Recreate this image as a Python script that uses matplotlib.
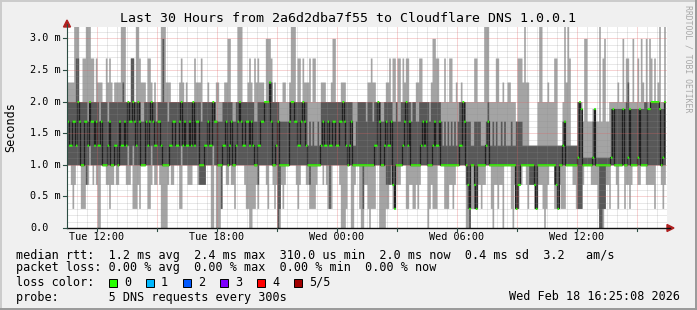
import numpy as np
import matplotlib
matplotlib.use("Agg")
import matplotlib.pyplot as plt
from matplotlib.lines import Line2D
from matplotlib.patches import Polygon, Rectangle
from matplotlib.transforms import blended_transform_factory

W, H = 697, 310
MONO = "DejaVu Sans Mono"

# rtt levels seen in the graph (ms); one char per ping in the strings below
LEVEL_MS = {"0": 0.0, "1": 0.31, "2": 0.69, "3": 1.0, "b": 1.12, "4": 1.31,
            "5": 1.69, "c": 1.89, "6": 2.0, "7": 2.31, "8": 2.69, "9": 3.0,
            "A": 3.4}

# 5 DNS requests every 300s, one char per step, first step starts Tue 10:30
MIN_RTT = ("3321233311" "1223323200" "3332212232" "2333332231" "1121333311"
           "2322320000" "3322333113" "3322233322" "222333003"
           "0001332232" "2133333211" "0011213333" "2133212002" "1233333321"
           "2333221111" "2333232111" "3333200013" "3002331002"
           "2101113300" "0011221122" "2333112211" "2123333012" "1113333111"
           "2212333333" "0001111221" "2233310221" "2203333102"
           "1122332122" "2112221012" "3331112111" "3333221111" "2333322221"
           "0001221333" "2133312212" "3332233322" "2221333212")
LOW_RTT = ("3333333333" "3234333333" "3333333333" "3333324334" "3333333333"
           "4333333333" "2333333343" "3333333332" "222333343"
           "3331333333" "3333333333" "3333323333" "3333333013" "3333333333"
           "3333332333" "3333333313" "3333333333" "3333333313"
           "3333333333" "3322232133" "3333333333" "3333333333" "3333333333"
           "3333333333" "2103311333" "3333333333" "3333333333"
           "1123333322" "2213333333" "3332213333" "3333333111" "3333333333"
           "0011333333" "3333333333" "3333333333" "3333333333")
MEDIAN_RTT = ("5445546533" "5546554544" "5333453344" "3544546556" "5465333545"
              "6544554333" "3445544564" "5445464553" "334454465"
              "5333445345" "3345654455" "4543344556" "6675334533" "3333566554"
              "4565433333" "3334544544" "5544556543" "4533333333"
              "3333344653" "3454452133" "3345645333" "3334545333" "4544533333"
              "3333334465" "3213321333" "3345333333" "3333333333"
              "1223333333" "3213333333" "3333213345" "3333333b6c" "333333bc33"
              "3333333bc3" "3333c33bc3" "333bc3333c" "c66666c3b6")
HIGH_RTT = ("6666688666" "6656666665" "6666566666" "6667666688" "6666556666"
            "6665666966" "5666666666" "6766666666" "566666666"
            "5555666666" "5566666666" "6665566666" "6677666655" "5555666666"
            "6666645454" "4546666666" "6666666666" "6644566666"
            "5666566665" "5666665565" "5666666566" "5566666656" "6666654545"
            "4545456666" "5554455554" "4456445454" "4545444544"
            "5555444444" "4444444444" "4444444455" "4444444666" "bbbbbbccbb"
            "bbbbbbbccc" "cccccc88cc" "ccccccc66c" "c66666ccc6")
MAX_RTT = ("7777AAA668" "8AAA886877" "7668787677" "77AAA66688" "6AA8777688"
           "767666AAA7" "7766666787" "6666668777" "866676666"
           "7766677996" "666AAA6667" "8768787776" "9998676666" "77667AAA68"
           "8687778688" "6667776667" "9966677766" "6666666666"
           "6778776666" "6677868868" "8687886666" "7788666667" "9988666866"
           "8866766766" "6666688666" "6AAA666688" "6676677666"
           "58887A7744" "4446AA6667" "666884446A" "7A8444466c" "5995555c55"
           "A589556666" "6766966766" "9668697696" "986867A66A")

START_HOUR = 10.5
STEP_HOURS = 5 / 60

TICK_HOURS = [12, 18, 24, 30, 36]
TICK_LABELS = ["Tue 12:00", "Tue 18:00", "Wed 00:00", "Wed 06:00", "Wed 12:00"]
Y_TICKS = [0.0, 0.5, 1.0, 1.5, 2.0, 2.5, 3.0]
Y_LABELS = ["0.0", "0.5 m", "1.0 m", "1.5 m", "2.0 m", "2.5 m", "3.0 m"]

LOSS_LABELS = ["0", "1", "2", "3", "4", "5/5"]
LOSS_COLORS = ["#26ff00", "#00b8ff", "#0059ff", "#7e00ff", "#ff0000", "#a10000"]

cols = [MIN_RTT, LOW_RTT, MEDIAN_RTT, HIGH_RTT, MAX_RTT]
n = min(len(c) for c in cols)
pings = np.array([[LEVEL_MS[c[i]] for c in cols] for i in range(n)])
pings.sort(axis=1)
t = START_HOUR + STEP_HOURS * np.arange(n + 1)


def ext(a):
    return np.append(a, a[-1])


def fx(x):
    return x / W


def fy(y):
    return 1 - y / H


fig = plt.figure(figsize=(W / 100, H / 100), dpi=100, facecolor="#f0f0f0")
ax = fig.add_axes([fx(67), fy(228), 600 / W, 201 / H])
ax.set_facecolor("white")
for s in ax.spines.values():
    s.set_visible(False)
ax.set_xticks([])
ax.set_yticks([])
ax.set_xlim(10.5, 40.5)
ax.set_ylim(0, 3.18)

# smoke
ax.fill_between(t, ext(pings[:, 0]), ext(pings[:, 4]), step="post",
                color="#a4a4a4", lw=0, antialiased=False, zorder=2)
ax.fill_between(t, ext(pings[:, 1]), ext(pings[:, 3]), step="post",
                color="#585858", lw=0, antialiased=False, zorder=3)

# median
med = pings[:, 2]
ax.step(t, ext(med), where="post", color="#202020", lw=0.9, zorder=4)
sw = 0.017
ax.fill_between(t, ext(med) - sw, ext(med) + sw, step="post",
                color=LOSS_COLORS[0], lw=0, antialiased=False, zorder=5)

# grid on top
minor = dict(color="#8c8c8c", alpha=0.4, lw=0.72, ls=(0, (1, 1)), zorder=6)
major = dict(color="#e06060", alpha=0.55, lw=0.72, ls=(0, (1, 1)), zorder=7)
for k in range(22, 81):
    h = k / 2
    ax.axvline(h, **(major if k % 6 == 0 else minor))
for k in range(1, 32):
    ax.axhline(k / 10, **(major if k % 5 == 0 else minor))

# axes lines and arrows
axis_col = "#2c4d43"
fig.add_artist(Line2D([fx(67), fx(670)], [fy(228), fy(228)], color="#101010",
                      lw=1.0, transform=fig.transFigure))
fig.add_artist(Line2D([fx(67), fx(67)], [fy(228), fy(24)], color=axis_col,
                      lw=0.8, transform=fig.transFigure))
fig.add_artist(Polygon([(fx(667), fy(224.5)), (fx(667), fy(231.5)), (fx(674), fy(228))],
                       closed=True, color="#b02020", transform=fig.transFigure))
fig.add_artist(Polygon([(fx(63.5), fy(27)), (fx(70.5), fy(27)), (fx(67), fy(20))],
                       closed=True, color="#b02020", transform=fig.transFigure))

# y ticks
ty = blended_transform_factory(fig.transFigure, ax.transData)
for v, lab in zip(Y_TICKS, Y_LABELS):
    fig.add_artist(Line2D([fx(63), fx(67)], [v, v], color=axis_col, lw=0.8,
                          transform=ty, clip_on=False))
    fig.text(fx(30), v, lab, transform=ty, ha="left", va="center",
             family=MONO, fontsize=7.3)

# x ticks
tx = blended_transform_factory(ax.transData, fig.transFigure)
for h in range(12, 40, 3):
    fig.add_artist(Line2D([h, h], [fy(228), fy(231)], color=axis_col, lw=0.8,
                          transform=tx, clip_on=False))
for h, lab in zip(TICK_HOURS, TICK_LABELS):
    fig.text(h, fy(237.5), lab, transform=tx, ha="center", va="center",
             family=MONO, fontsize=7.3)

fig.text(fx(347.5), fy(18.5), "Last 30 Hours from 2a6d2dba7f55 to Cloudflare DNS 1.0.0.1",
         ha="center", va="center", family=MONO, fontsize=9.5)
fig.text(fx(11), fy(127), "Seconds", rotation=90, ha="center", va="center",
         family=MONO, fontsize=8.5)
fig.text(fx(688), fy(5), "RRDTOOL / TOBI OETIKER", rotation=270, ha="center",
         va="top", family=MONO, fontsize=5.9, color="#a8a8a8")

# legend
leg = dict(family=MONO, fontsize=8.5, va="center", ha="left")
fig.text(fx(16), fy(255), "median rtt:  1.2 ms avg  2.4 ms max  310.0 us min  "
         "2.0 ms now  0.4 ms sd  3.2   am/s", **leg)
fig.text(fx(16), fy(268), "packet loss: 0.00 % avg  0.00 % max  0.00 % min  0.00 % now", **leg)
fig.text(fx(16), fy(282), "loss color:", **leg)
for i, (lab, col) in enumerate(zip(LOSS_LABELS, LOSS_COLORS)):
    x0 = 109 + 37 * i
    fig.add_artist(Rectangle((fx(x0), fy(286.5)), 8 / W, 8 / H, facecolor=col,
                             edgecolor="black", lw=0.7, transform=fig.transFigure))
    fig.text(fx(x0 + 15), fy(282), lab, **leg)
fig.text(fx(16), fy(297), "probe:       5 DNS requests every 300s", **leg)
fig.text(fx(680), fy(297), "Wed Feb 18 16:25:08 2026", family=MONO, fontsize=8.5,
         va="center", ha="right")

# frame shading
fig.add_artist(Line2D([0, 1], [fy(0.5), fy(0.5)], color="#cbcbcb", lw=1.4, transform=fig.transFigure))
fig.add_artist(Line2D([fx(0.5), fx(0.5)], [0, 1], color="#cbcbcb", lw=1.4, transform=fig.transFigure))
fig.add_artist(Line2D([0, 1], [fy(309), fy(309)], color="#999999", lw=1.4, transform=fig.transFigure))
fig.add_artist(Line2D([fx(696), fx(696)], [0, 1], color="#999999", lw=1.4, transform=fig.transFigure))

fig.savefig("out.png", dpi=100, facecolor=fig.get_facecolor())
